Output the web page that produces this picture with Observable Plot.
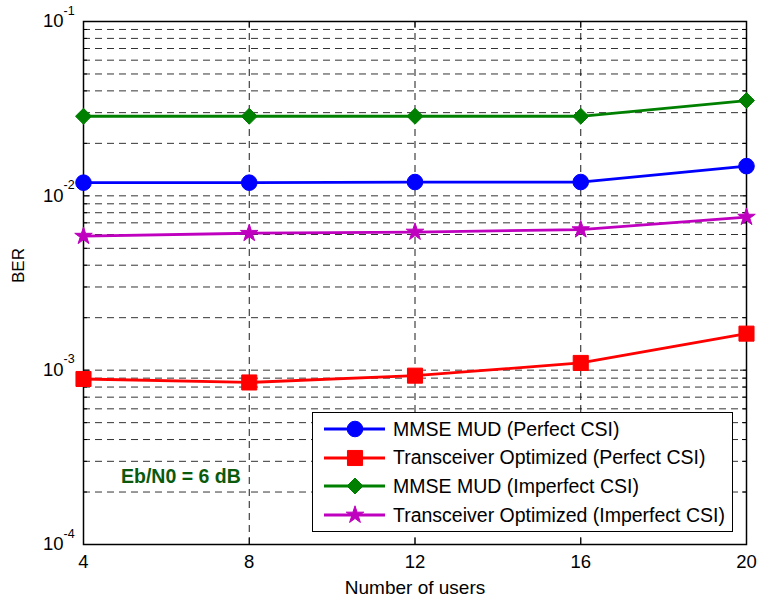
<!DOCTYPE html>
<html>
<head>
<meta charset="utf-8">
<script src="https://cdn.jsdelivr.net/npm/d3@7"></script>
<script src="https://cdn.jsdelivr.net/npm/@observablehq/plot@0.6"></script>
<style>
  html, body { margin: 0; padding: 0; background: #fff; }
  #wrap { position: relative; width: 758px; height: 599px; font-family: "Liberation Sans", Arial, Helvetica, sans-serif; }
  #legend { position: absolute; left: 312px; top: 412px; width: 419px; height: 118px; border: 1.5px solid #000; background: #fff; box-sizing: content-box; }
  .lg-row { position: absolute; left: 0; height: 28px; display: flex; align-items: center; }
  .lg-row span { font-size: 19.5px; color: #000; white-space: nowrap; margin-left: 8px; }
</style>
</head>
<body>
<div id="wrap"></div>
<script>
// ---- data ----
const users = [4, 8, 12, 16, 20];
const mmsePerfect   = [0.0119, 0.0119, 0.0120, 0.0120, 0.0148];
const toPerfect     = [0.00089, 0.00085, 0.00093, 0.00110, 0.00162];
const mmseImperfect = [0.0286, 0.0286, 0.0286, 0.0286, 0.0352];
const toImperfect   = [0.00587, 0.0061, 0.0062, 0.0064, 0.00755];
const seriesNames = [
  "MMSE MUD (Perfect CSI)",
  "Transceiver Optimized (Perfect CSI)",
  "MMSE MUD (Imperfect CSI)",
  "Transceiver Optimized (Imperfect CSI)"
];
const seriesValues = [mmsePerfect, toPerfect, mmseImperfect, toImperfect];
const seriesColors = ["#0000ff", "#ff0000", "#008000", "#bf00bf"];
const seriesSymbols = ["circle", "square", "diamond2", "star"];
const seriesR = [7.8, 8.5, 7.2, 5.5];
const xTicks = [4, 8, 12, 16, 20];
const yMajor = [1e-4, 1e-3, 1e-2, 1e-1];
const yExpLabels = ["-4", "-3", "-2", "-1"];
const annotation = {x: 6.35, y: 2.45e-4, text: "Eb/N0 = 6 dB"};
const xLabel = "Number of users";
const yLabel = "BER";

// ---- derived ----
const rows = seriesNames.flatMap((s, i) => users.map((u, j) => ({series: s, users: u, ber: seriesValues[i][j]})));
const yMinor = [];
for (let e = -4; e < -1; e++) for (let m = 2; m <= 9; m++) yMinor.push(m * Math.pow(10, e));
const yGrid = yMinor.concat([1e-3, 1e-2]);
const xGrid = xTicks.slice(1, -1);

const W = 758, H = 599, mL = 83, mR = 12, mT = 21, mB = 55;
const fw = W - mL - mR, fh = H - mT - mB;
const dash = "7,5";

const marks = [
  Plot.ruleY(yGrid, {y: d => d, stroke: "#000", strokeOpacity: 0.8, strokeDasharray: dash, strokeWidth: 1}),
  Plot.ruleX(xGrid, {x: d => d, stroke: "#000", strokeOpacity: 0.9, strokeDasharray: dash, strokeWidth: 1}),
  // inside ticks
  Plot.tickY(yMajor, {y: d => d, insetRight: fw - 6, stroke: "#000"}),
  Plot.tickY(yMajor, {y: d => d, insetLeft: fw - 6, stroke: "#000"}),
  Plot.tickY(yMinor, {y: d => d, insetRight: fw - 4, stroke: "#000"}),
  Plot.tickY(yMinor, {y: d => d, insetLeft: fw - 4, stroke: "#000"}),
  Plot.tickX(xTicks, {x: d => d, insetTop: fh - 6, stroke: "#000"}),
  Plot.tickX(xTicks, {x: d => d, insetBottom: fh - 6, stroke: "#000"}),
  Plot.frame({stroke: "#000", strokeWidth: 1.5}),
  Plot.line(rows, {x: "users", y: "ber", z: "series", stroke: "series", strokeWidth: 2.8}),
  ...seriesNames.map((s, i) => Plot.dot(rows.filter(d => d.series === s), {
    x: "users", y: "ber", symbol: "series", fill: "series", stroke: "series", strokeWidth: 1, r: seriesR[i]
  })),
  // y tick labels: 10^k
  Plot.text(yMajor, {x: () => 4, y: d => d, text: () => "10", textAnchor: "end", dx: -20, fontSize: 18.5, fill: "#000"}),
  Plot.text(yMajor, {x: () => 4, y: d => d, text: (d, i) => yExpLabels[i], textAnchor: "start", dx: -20, dy: -11, fontSize: 12.5, fill: "#000"}),
  // x tick labels
  Plot.text(xTicks, {x: d => d, frameAnchor: "bottom", text: d => String(d), dy: 23, fontSize: 18.5, fill: "#000"}),
  // axis labels
  Plot.text([xLabel], {frameAnchor: "bottom", text: d => d, dy: 49, fontSize: 19, fill: "#000"}),
  Plot.text([yLabel], {frameAnchor: "left", text: d => d, dx: -65, rotate: -90, fontSize: 17, fill: "#000"}),
  // annotation
  Plot.text([annotation], {x: "x", y: "y", text: "text", fontSize: 19.5, fontWeight: "bold", fill: "#0b5a0b"})
];

const chart = Plot.plot({
  width: W, height: H,
  marginLeft: mL, marginRight: mR, marginTop: mT, marginBottom: mB,
  x: {domain: [4, 20], axis: null},
  y: {type: "log", domain: [1e-4, 1e-1], axis: null},
  color: {domain: seriesNames, range: seriesColors},
  symbol: {domain: seriesNames, range: seriesSymbols},
  style: {fontFamily: '"Liberation Sans", Arial, Helvetica, sans-serif', background: "#fff", color: "#000"},
  marks
});
const wrap = document.getElementById("wrap");
wrap.appendChild(chart);

// legend
const legend = document.createElement("div");
legend.id = "legend";
const symMap = {circle: d3.symbolCircle, square: d3.symbolSquare, diamond2: d3.symbolDiamond2, star: d3.symbolStar};
seriesNames.forEach((s, i) => {
  const row = document.createElement("div");
  row.className = "lg-row";
  row.style.top = (2 + i * 28.7) + "px";
  const svg = d3.create("svg").attr("width", 72).attr("height", 28);
  svg.append("line").attr("x1", 11).attr("x2", 72).attr("y1", 14).attr("y2", 14)
    .attr("stroke", seriesColors[i]).attr("stroke-width", 2.8);
  svg.append("path").attr("transform", "translate(42,14)")
    .attr("d", d3.symbol(symMap[seriesSymbols[i]], Math.PI * seriesR[i] * seriesR[i])())
    .attr("fill", seriesColors[i]).attr("stroke", seriesColors[i]);
  row.appendChild(svg.node());
  const t = document.createElement("span");
  t.textContent = s;
  row.appendChild(t);
  legend.appendChild(row);
});
wrap.appendChild(legend);
</script>
</body>
</html>
